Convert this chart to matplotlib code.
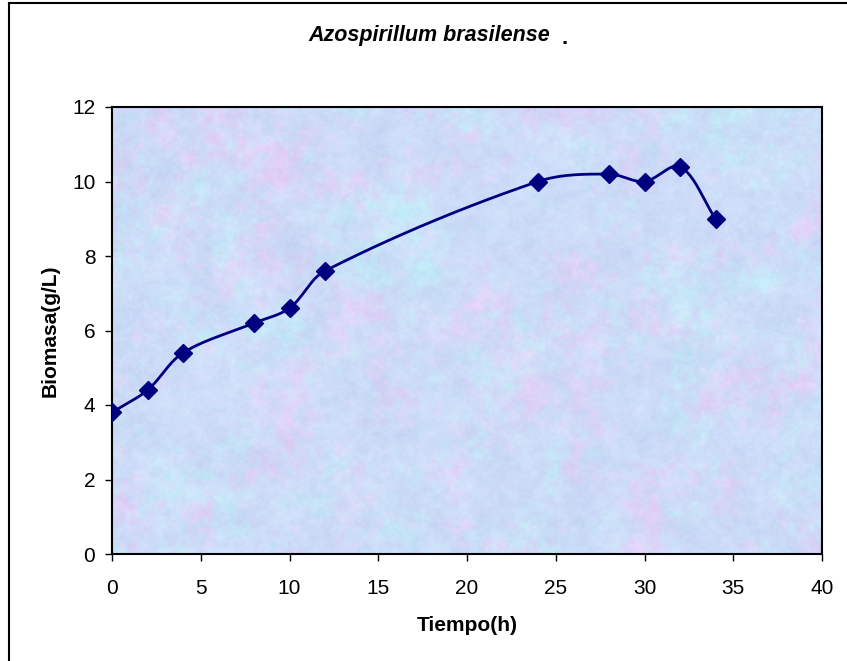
import numpy as np
import matplotlib
matplotlib.use('Agg')
from matplotlib import pyplot as plt

plt.rcParams['font.family'] = ['Liberation Sans', 'DejaVu Sans']

# data
tiempo = [0, 2, 4, 8, 10, 12, 24, 28, 30, 32, 34]
biomasa = [3.8, 4.4, 5.4, 6.2, 6.6, 7.6, 10.0, 10.2, 10.0, 10.4, 9.0]
x_ticks = [0, 5, 10, 15, 20, 25, 30, 35, 40]
y_ticks = [0, 2, 4, 6, 8, 10, 12]


def smooth_curve(xs, ys, yscale=2.1, n=40):
    # Excel-like smoothing: bezier, tangents from neighbours scaled by segment length
    P = np.column_stack([xs, np.array(ys) * yscale]).astype(float)
    out = []
    for i in range(len(P) - 1):
        p0 = P[i - 1] if i > 0 else P[i]
        p1 = P[i]
        p2 = P[i + 1]
        p3 = P[i + 2] if i + 2 < len(P) else P[i + 1]
        l0 = np.linalg.norm(p1 - p0)
        l1 = np.linalg.norm(p2 - p1)
        l2 = np.linalg.norm(p3 - p2)
        c1 = p1 + (p2 - p0) * (l1 / (l0 + l1)) / 3.0 if l0 > 0 else p1 + (p2 - p1) / 3.0
        c2 = p2 - (p3 - p1) * (l1 / (l1 + l2)) / 3.0 if l2 > 0 else p2 - (p2 - p1) / 3.0
        t = np.linspace(0, 1, n)[:, None]
        seg = ((1 - t) ** 3) * p1 + 3 * ((1 - t) ** 2) * t * c1 + 3 * (1 - t) * t ** 2 * c2 + t ** 3 * p2
        out.append(seg)
    out = np.vstack(out)
    return out[:, 0], out[:, 1] / yscale


def noise(h, w, rng, octaves):
    field = np.zeros((h, w))
    for scale, amp in octaves:
        small = rng.random((h // scale + 2, w // scale + 2))
        yi = np.linspace(0, small.shape[0] - 1.001, h)
        xi = np.linspace(0, small.shape[1] - 1.001, w)
        y0 = yi.astype(int)
        x0 = xi.astype(int)
        fy = (yi - y0)[:, None]
        fx = (xi - x0)[None, :]
        a = small[y0][:, x0]
        b = small[y0][:, x0 + 1]
        c = small[y0 + 1][:, x0]
        d = small[y0 + 1][:, x0 + 1]
        field += amp * (a * (1 - fx) * (1 - fy) + b * fx * (1 - fy) + c * (1 - fx) * fy + d * fx * fy)
    field = (field - field.min()) / (field.max() - field.min())
    return field


# soft blue / pink marble like the Excel fill
rng = np.random.default_rng(7)
H, W = 447, 710
oct_ = [(60, 0.8), (25, 0.8), (10, 0.7), (4, 0.5), (2, 0.3)]
pink = noise(H, W, rng, oct_)
cyan = noise(H, W, rng, oct_)
light = noise(H, W, rng, [(30, 0.6), (8, 0.6), (3, 0.5), (1, 0.3)])
pink = np.clip((pink - 0.5) * 2.2, 0, 1)
cyan = np.clip((cyan - 0.5) * 2.2, 0, 1)
r = 0.80 + 0.11 * pink - 0.05 * cyan + 0.09 * (light - 0.5)
g = 0.86 - 0.06 * pink + 0.07 * cyan + 0.09 * (light - 0.5)
b = 0.97 + 0.05 * (light - 0.5)
tex = np.clip(np.dstack([r, g, b]), 0, 1)

fig = plt.figure(figsize=(8.47, 6.61), dpi=100)
ax = fig.add_axes([112 / 847, 1 - 554 / 661, 710 / 847, 447 / 661])
ax.imshow(tex, extent=[0, 40, 0, 12], aspect='auto', zorder=0, interpolation='bilinear')

sx, sy = smooth_curve(tiempo, biomasa)
ax.plot(sx, sy, color='#000080', lw=2, zorder=3)
ax.plot(tiempo, biomasa, linestyle='none', marker='D', ms=9.5, color='#000080', zorder=4)

ax.set_xlim(0, 40)
ax.set_ylim(0, 12)
ax.set_xticks(x_ticks)
ax.set_yticks(y_ticks)
ax.tick_params(direction='out', length=5, width=1, labelsize=15)
ax.tick_params(axis='x', pad=13)
ax.tick_params(axis='y', pad=7)
for s in ax.spines.values():
    s.set_linewidth(1.5)
    s.set_color('black')

ax.set_xlabel('Tiempo(h)', fontsize=15, fontweight='bold', labelpad=13)
ax.set_ylabel('Biomasa(g/L)', fontsize=15, fontweight='bold', labelpad=9)

fig.text(429 / 847, 1 - 36 / 661, 'Azospirillum brasilense', fontsize=15.5, fontweight='bold',
         style='italic', ha='center', va='center')
fig.text(561 / 847, 1 - 38 / 661, '.', fontsize=16, fontweight='bold', ha='left', va='center')

# chart outline (top and left edges visible)
fig.add_artist(plt.Line2D([9 / 847, 1], [1 - 3 / 661, 1 - 3 / 661], color='black', lw=1.5, transform=fig.transFigure))
fig.add_artist(plt.Line2D([9 / 847, 9 / 847], [0, 1 - 3 / 661], color='black', lw=1.5, transform=fig.transFigure))

fig.savefig('out.png', dpi=100)
